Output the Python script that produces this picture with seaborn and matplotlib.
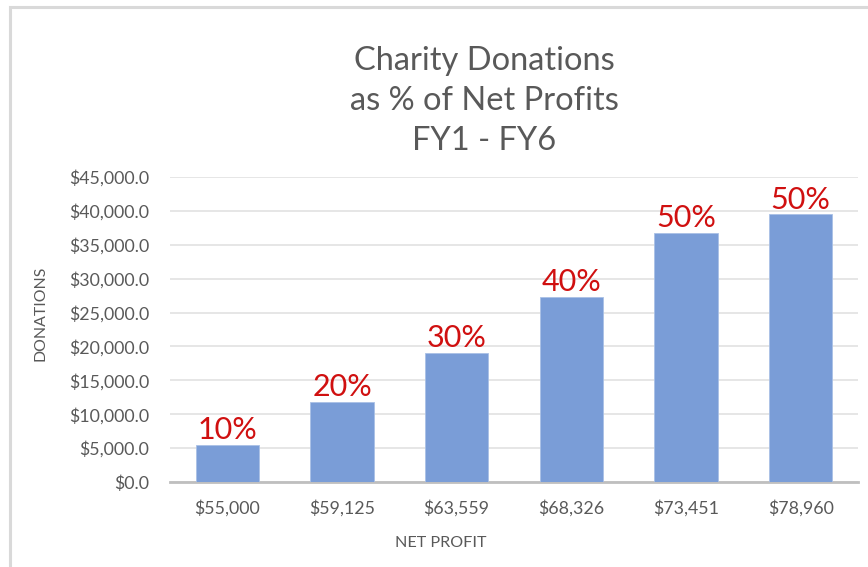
import matplotlib
matplotlib.use("Agg")
import matplotlib.pyplot as plt
import seaborn as sns
import pandas as pd
from matplotlib.patches import Rectangle
from matplotlib.ticker import FuncFormatter

net_profit_labels = ["$55,000", "$59,125", "$63,559", "$68,326", "$73,451", "$78,960"]
donations = [5500.0, 11825.0, 19067.7, 27330.4, 36725.5, 39480.0]
pct_labels = ["10%", "20%", "30%", "40%", "50%", "50%"]
yticks = [0, 5000, 10000, 15000, 20000, 25000, 30000, 35000, 40000, 45000]

df = pd.DataFrame({"profit": net_profit_labels, "donation": donations})

sns.set_theme(style="white")
plt.rcParams["font.family"] = ["Lato", "DejaVu Sans"]

W, H = 868, 567
fig = plt.figure(figsize=(W / 100, H / 100), dpi=100)
fig.patch.set_facecolor("white")

# outer chart border (extends off right/bottom)
fig.patches.append(Rectangle((10 / W, -0.1), 1.2, (567 - 7) / H + 0.1, transform=fig.transFigure,
                             fill=False, edgecolor="#D9D9D9", linewidth=2.2, zorder=0))

ax = fig.add_axes([170 / W, 1 - 482 / H, (858 - 170) / W, (482 - 177) / H])
sns.barplot(data=df, x="profit", y="donation", color="#7A9DD7", width=0.55,
            saturation=1, ax=ax, zorder=3)
for p in ax.patches:
    p.set_edgecolor("#A9C0E6")
    p.set_linewidth(0.6)

ax.set_ylim(0, 45000)
ax.set_yticks(yticks)
ax.yaxis.set_major_formatter(FuncFormatter(lambda v, _: "${:,.1f}".format(v)))
ax.grid(axis="y", color="#E6E6E6", linewidth=1.4, zorder=0)
ax.set_axisbelow(True)
for s in ["top", "right", "left"]:
    ax.spines[s].set_visible(False)
ax.spines["bottom"].set_color("#BFBFBF")
ax.spines["bottom"].set_linewidth(2)
ax.tick_params(axis="both", length=0, labelsize=12.8, labelcolor="#595959")
ax.tick_params(axis="y", pad=15)
ax.tick_params(axis="x", pad=13)
ax.set_xlabel("")
ax.set_ylabel("")

for i, (v, lab) in enumerate(zip(donations, pct_labels)):
    ax.annotate(lab, (i, v), xytext=(0, 0.5), textcoords="offset points",
                ha="center", va="bottom", fontsize=22, color="#D01010")

fig.text(484 / W, 1 - 101 / H, "Charity Donations\nas % of Net Profits\nFY1 - FY6",
         ha="center", va="center", fontsize=23.5, color="#595959", linespacing=1.4)
fig.text(441 / W, 1 - 543 / H, "NET PROFIT", ha="center", va="center",
         fontsize=11.6, color="#595959")
fig.text(41 / W, 1 - 313 / H, "DONATIONS", ha="center", va="center", rotation=90,
         fontsize=11.4, color="#595959")

fig.savefig("out.png", dpi=100)
